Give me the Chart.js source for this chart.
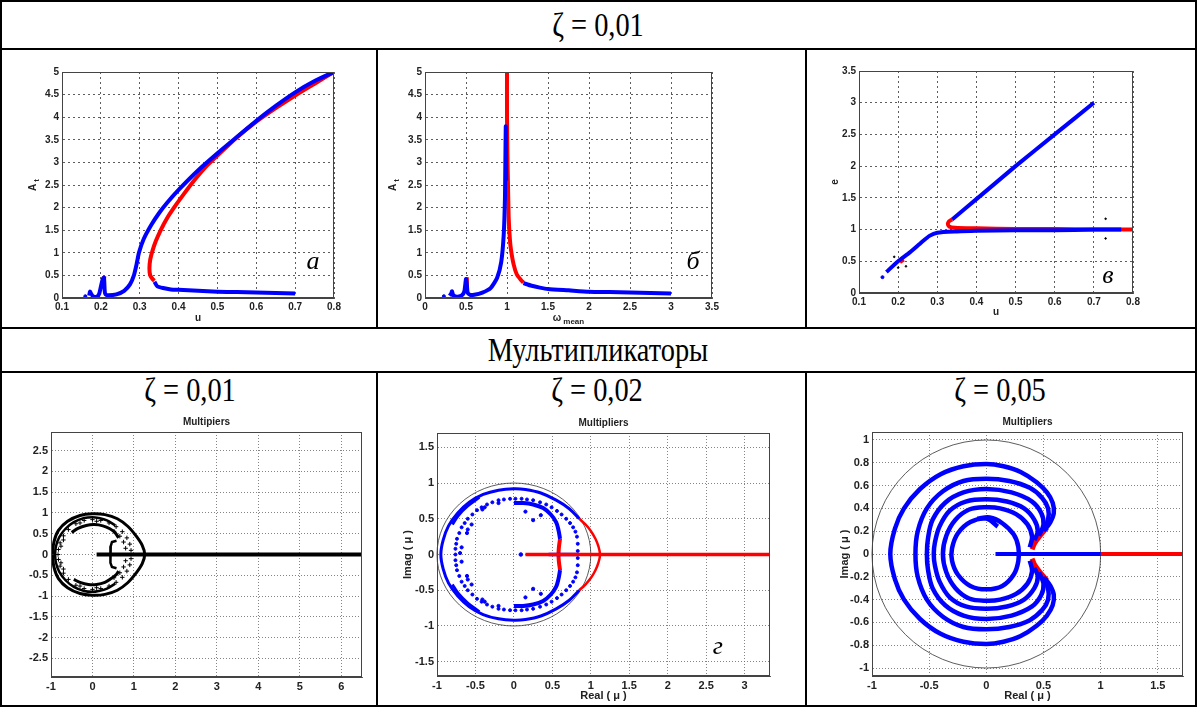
<!DOCTYPE html>
<html>
<head>
<meta charset="utf-8">
<script src="https://cdn.jsdelivr.net/npm/chart.js@4.4.0/dist/chart.umd.min.js"></script>
<style>
  body { margin: 0; background: #fff; }
  #page { position: relative; width: 1197px; height: 707px; overflow: hidden; background: #fff; }
  .ln { position: absolute; background: #000; }
  .hd { position: absolute; width: 400px; text-align: center; font-family: "Liberation Serif", serif;
        font-size: 33px; line-height: 36px; color: #000; transform: scaleX(0.86); white-space: nowrap; }
  canvas { position: absolute; }
</style>
</head>
<body>
<div id="page">
  <div class="ln" style="left:0;top:0;width:1197px;height:2px"></div>
  <div class="ln" style="left:0;top:705px;width:1197px;height:2px"></div>
  <div class="ln" style="left:0;top:0;width:2px;height:707px"></div>
  <div class="ln" style="left:1195px;top:0;width:2px;height:707px"></div>
  <div class="ln" style="left:0;top:48px;width:1197px;height:2px"></div>
  <div class="ln" style="left:0;top:327px;width:1197px;height:2px"></div>
  <div class="ln" style="left:0;top:371px;width:1197px;height:2px"></div>
  <div class="ln" style="left:376px;top:48px;width:2px;height:281px"></div>
  <div class="ln" style="left:805px;top:48px;width:2px;height:281px"></div>
  <div class="ln" style="left:376px;top:371px;width:2px;height:336px"></div>
  <div class="ln" style="left:805px;top:371px;width:2px;height:336px"></div>

  <div class="hd" style="left:398px;top:7px">ζ = 0,01</div>
  <div class="hd" style="left:398px;top:332px">Мультипликаторы</div>
  <div class="hd" style="left:-10px;top:372px">ζ = 0,01</div>
  <div class="hd" style="left:397px;top:372px">ζ = 0,02</div>
  <div class="hd" style="left:800px;top:372px">ζ = 0,05</div>
</div>
<script>
// ---- tick values
const ticksU = [0.1, 0.2, 0.3, 0.4, 0.5, 0.6, 0.7, 0.8]
const ticksA = [0, 0.5, 1, 1.5, 2, 2.5, 3, 3.5, 4, 4.5, 5]
const ticksW = [0, 0.5, 1, 1.5, 2, 2.5, 3, 3.5]
const ticksE = [0, 0.5, 1, 1.5, 2, 2.5, 3, 3.5]
const ticksM1x = [-1, 0, 1, 2, 3, 4, 5, 6]
const ticksM1y = [-2.5, -2, -1.5, -1, -0.5, 0, 0.5, 1, 1.5, 2, 2.5]
const ticksM2x = [-1, -0.5, 0, 0.5, 1, 1.5, 2, 2.5, 3]
const ticksM2y = [-1.5, -1, -0.5, 0, 0.5, 1, 1.5]
const ticksM3x = [-1, -0.5, 0, 0.5, 1, 1.5]
const ticksM3y = [-1, -0.8, -0.6, -0.4, -0.2, 0, 0.2, 0.4, 0.6, 0.8, 1]

// ---- chart а : A_t vs u
const aBlueDot = [[0.16, 0.04]]
const aBlueMain = [[0.17, 0.05], [0.172, 0.14], [0.175, 0.09], [0.18, 0.04], [0.19, 0.03], [0.196, 0.1], [0.2, 0.25],
  [0.205, 0.42], [0.208, 0.45], [0.21, 0.15], [0.212, 0.08], [0.22, 0.06], [0.24, 0.08], [0.26, 0.16], [0.275, 0.3],
  [0.285, 0.5], [0.292, 0.75], [0.298, 1.0], [0.31, 1.3], [0.33, 1.62], [0.35, 1.88], [0.37, 2.1], [0.4, 2.39],
  [0.45, 2.82], [0.5, 3.2], [0.55, 3.56], [0.6, 3.92], [0.65, 4.25], [0.7, 4.55], [0.75, 4.8], [0.8, 5.0]]
const aBlueTail = [[0.338, 0.36], [0.345, 0.26], [0.36, 0.22], [0.38, 0.19], [0.4, 0.18], [0.45, 0.16], [0.5, 0.14],
  [0.55, 0.13], [0.6, 0.12], [0.65, 0.11], [0.7, 0.1]]
const aRed = [[0.8, 5.0], [0.75, 4.74], [0.7, 4.48], [0.65, 4.2], [0.6, 3.9], [0.55, 3.55], [0.5, 3.15], [0.47, 2.9],
  [0.44, 2.6], [0.41, 2.26], [0.39, 2.02], [0.37, 1.76], [0.355, 1.52], [0.342, 1.27], [0.333, 1.05], [0.327, 0.85],
  [0.325, 0.65], [0.327, 0.5], [0.333, 0.42], [0.338, 0.38]]
const aRedSpike1 = [[0.17, 0.1], [0.173, 0.15]]
const aRedSpike2 = [[0.205, 0.25], [0.209, 0.48]]

// ---- chart б : A_t vs omega_mean
const bBlueDot = [[0.23, 0.04]]
const bBlueMain = [[0.3, 0.05], [0.32, 0.1], [0.33, 0.15], [0.34, 0.08], [0.36, 0.04], [0.4, 0.03], [0.45, 0.06],
  [0.48, 0.15], [0.5, 0.42], [0.51, 0.3], [0.52, 0.12], [0.55, 0.07], [0.6, 0.07], [0.7, 0.12], [0.8, 0.22],
  [0.88, 0.45], [0.93, 0.8], [0.96, 1.4], [0.975, 2.2], [0.98, 3.0], [0.985, 3.8], [0.99, 2.6]]
const bBlueTail = [[1.2, 0.33], [1.3, 0.27], [1.4, 0.23], [1.5, 0.2], [1.75, 0.17], [2.0, 0.14], [2.25, 0.13],
  [2.5, 0.12], [2.75, 0.11], [3.0, 0.1]]
const bRed = [[1.0, 5.0], [1.0, 4.0], [1.005, 3.2], [1.01, 2.7], [1.02, 1.8], [1.035, 1.3], [1.05, 1.05], [1.08, 0.75],
  [1.12, 0.52], [1.17, 0.4], [1.2, 0.34]]
const bRedSpike1 = [[0.33, 0.1], [0.335, 0.16]]
const bRedSpike2 = [[0.5, 0.25], [0.51, 0.46]]

// ---- chart в : e vs u
const cBlueDot = [[0.16, 0.25]]
const cBlueLow = [[0.17, 0.33], [0.2, 0.5], [0.23, 0.64], [0.26, 0.8], [0.28, 0.9], [0.3, 0.95], [0.35, 0.97],
  [0.4, 0.98], [0.5, 0.99], [0.6, 0.99], [0.7, 1.0], [0.77, 1.0]]
const cBlueUp = [[0.338, 1.16], [0.4, 1.48], [0.5, 2.0], [0.6, 2.5], [0.7, 3.0]]
const cRed = [[0.8, 1.0], [0.7, 1.0], [0.6, 1.01], [0.5, 1.01], [0.4, 1.02], [0.345, 1.03], [0.33, 1.05],
  [0.327, 1.09], [0.33, 1.13], [0.338, 1.16]]
const cRedBit = [[0.205, 0.48], [0.215, 0.52]]
const cBlackDots = [[0.19, 0.57], [0.22, 0.42], [0.2, 0.4], [0.73, 1.17], [0.73, 0.86], [0.8, 0.85], [0.8, 1.15]]

// ---- multipliers, zeta = 0.01 (black)
const m1Line = [[0.1, 0], [6.5, 0]]
const m1Outer = [[-0.96, 0], [-0.93, 0.3], [-0.82, 0.58], [-0.6, 0.8], [-0.3, 0.94], [0, 0.98], [0.3, 0.96], [0.6, 0.86],
  [0.85, 0.68], [1.05, 0.45], [1.2, 0.22], [1.26, 0], [1.2, -0.22], [1.05, -0.45], [0.85, -0.68], [0.6, -0.86],
  [0.3, -0.96], [0, -0.98], [-0.3, -0.94], [-0.6, -0.8], [-0.82, -0.58], [-0.93, -0.3], [-0.96, 0]]
const m1Ring = [[0.55, 0.7], [0.35, 0.82], [0.15, 0.88], [0, 0.9], [-0.2, 0.88], [-0.45, 0.78], [-0.65, 0.62],
  [-0.8, 0.42], [-0.88, 0.2], [-0.9, 0], [-0.88, -0.2], [-0.8, -0.42], [-0.65, -0.62], [-0.45, -0.78], [-0.2, -0.88],
  [0, -0.9], [0.15, -0.88], [0.35, -0.82], [0.55, -0.7]]
const m1Cross = [[0.93, 0.1], [0.9, 0.25], [0.83, 0.4], [0.72, 0.55], [0.57, 0.67], [0.4, 0.76], [0.2, 0.82], [0, 0.84],
  [-0.2, 0.82], [-0.4, 0.74], [-0.58, 0.6], [-0.7, 0.45], [-0.78, 0.28], [-0.82, 0.12], [-0.83, 0], [-0.82, -0.12],
  [-0.78, -0.28], [-0.7, -0.45], [-0.58, -0.6], [-0.4, -0.74], [-0.2, -0.82], [0, -0.84], [0.2, -0.82], [0.4, -0.76],
  [0.57, -0.67], [0.72, -0.55], [0.83, -0.4], [0.9, -0.25], [0.93, -0.1], [0.8, 0.15], [0.75, 0.3], [0.66, 0.44],
  [0.52, 0.56], [0.8, -0.15], [0.75, -0.3], [0.66, -0.44], [0.52, -0.56], [-0.76, 0.2], [-0.7, 0.35], [-0.76, -0.2],
  [-0.7, -0.35], [0.1, 0.8], [-0.3, 0.76], [0.1, -0.8], [-0.3, -0.76]]
const m1InnerTop = [[-0.5, 0.53], [-0.35, 0.63], [-0.15, 0.7], [0.05, 0.72], [0.25, 0.69], [0.42, 0.62], [0.55, 0.52], [0.63, 0.4]]
const m1InnerBot = [[-0.45, -0.6], [-0.3, -0.67], [-0.1, -0.72], [0.1, -0.72], [0.3, -0.67], [0.45, -0.58], [0.58, -0.48], [0.63, -0.4]]
const m1Bracket = [[0.58, 0.33], [0.47, 0.3], [0.44, 0.2], [0.43, 0.05], [0.43, -0.05], [0.44, -0.2], [0.47, -0.3], [0.58, -0.33]]

// ---- multipliers, zeta = 0.02
const m2Outer = [[0.85, 0.5], [0.72, 0.64], [0.55, 0.76], [0.35, 0.86], [0.15, 0.91], [0, 0.92], [-0.2, 0.9], [-0.4, 0.84],
  [-0.58, 0.73], [-0.73, 0.58], [-0.85, 0.4], [-0.92, 0.2], [-0.95, 0], [-0.92, -0.2], [-0.85, -0.4], [-0.73, -0.58],
  [-0.58, -0.73], [-0.4, -0.84], [-0.2, -0.9], [0, -0.92], [0.15, -0.91], [0.35, -0.86], [0.55, -0.76], [0.72, -0.64], [0.85, -0.5]]
const m2BandTop = [[-0.45, 0.8], [-0.6, 0.68], [-0.72, 0.55], [-0.8, 0.42]]
const m2BandBot = [[-0.45, -0.8], [-0.6, -0.68], [-0.72, -0.55], [-0.8, -0.42]]
const m2Mid = [[0.83, 0.05], [0.83, 0.15], [0.82, 0.25], [0.8, 0.32], [0.77, 0.38], [0.73, 0.44], [0.68, 0.5], [0.62, 0.56],
  [0.56, 0.61], [0.49, 0.66], [0.42, 0.7], [0.34, 0.73], [0.25, 0.76], [0.17, 0.77], [0.1, 0.78], [0.02, 0.78],
  [-0.05, 0.78], [-0.13, 0.77], [-0.2, 0.76], [-0.28, 0.73], [-0.35, 0.7], [-0.42, 0.66], [-0.48, 0.62], [-0.54, 0.56],
  [-0.6, 0.5], [-0.64, 0.44], [-0.68, 0.38], [-0.71, 0.3], [-0.74, 0.22], [-0.75, 0.15], [-0.76, 0.08], [-0.76, 0],
  [-0.76, -0.08], [-0.75, -0.15], [-0.74, -0.22], [-0.71, -0.3], [-0.68, -0.38], [-0.64, -0.44], [-0.6, -0.5],
  [-0.54, -0.56], [-0.48, -0.62], [-0.42, -0.66], [-0.35, -0.7], [-0.28, -0.73], [-0.2, -0.76], [-0.13, -0.77],
  [-0.05, -0.78], [0.02, -0.78], [0.1, -0.78], [0.17, -0.77], [0.25, -0.76], [0.34, -0.73], [0.42, -0.7], [0.49, -0.66],
  [0.56, -0.61], [0.62, -0.56], [0.68, -0.5], [0.73, -0.44], [0.77, -0.38], [0.8, -0.32], [0.82, -0.25], [0.83, -0.15],
  [0.83, -0.05]]
const m2Scatter = [[-0.41, 0.63], [-0.38, 0.66], [-0.6, 0.35], [-0.61, 0.3], [-0.55, 0.42], [-0.7, 0.02], [-0.68, 0.1],
  [-0.2, 0.72], [0.35, 0.55], [0.25, 0.48], [0.15, 0.6], [-0.41, -0.63], [-0.38, -0.66], [-0.6, -0.35], [-0.61, -0.3],
  [-0.55, -0.42], [-0.68, -0.1], [-0.2, -0.72], [0.35, -0.55], [0.25, -0.48], [0.15, -0.6]]
const m2ArcTop = [[0, 0.72], [0.12, 0.72], [0.25, 0.7], [0.38, 0.65], [0.48, 0.56], [0.55, 0.45], [0.58, 0.34], [0.6, 0.22]]
const m2ArcBot = [[0, -0.72], [0.12, -0.72], [0.25, -0.7], [0.38, -0.65], [0.48, -0.56], [0.55, -0.45], [0.58, -0.34], [0.6, -0.22]]
const m2RedArc = [[0.85, 0.5], [0.93, 0.42], [1.0, 0.33], [1.06, 0.22], [1.1, 0.11], [1.12, 0], [1.1, -0.11], [1.06, -0.22],
  [1.0, -0.33], [0.93, -0.42], [0.85, -0.5]]
const m2RedInner = [[0.6, 0.22], [0.585, 0.1], [0.58, 0], [0.585, -0.1], [0.6, -0.22]]
const m2RedLine = [[0.15, 0], [3.33, 0]]
const m2BlueLine = [[0.45, 0], [0.83, 0]]
const m2BlueDot = [[0.09, 0]]

// ---- multipliers, zeta = 0.05
const m3R1 = [[0.51, 0.21], [0.56, 0.28], [0.59, 0.36], [0.58, 0.45], [0.53, 0.54], [0.44, 0.63], [0.3, 0.72], [0.15, 0.77],
  [0, 0.79], [-0.2, 0.77], [-0.4, 0.7], [-0.58, 0.57], [-0.72, 0.4], [-0.8, 0.22], [-0.84, 0], [-0.8, -0.22], [-0.72, -0.4],
  [-0.58, -0.57], [-0.4, -0.7], [-0.2, -0.77], [0, -0.79], [0.15, -0.77], [0.3, -0.72], [0.44, -0.63], [0.53, -0.54],
  [0.58, -0.45], [0.59, -0.36], [0.56, -0.28], [0.51, -0.21]]
const m3R2 = [[0.5, 0.2], [0.54, 0.3], [0.54, 0.4], [0.49, 0.49], [0.38, 0.58], [0.2, 0.64], [0, 0.66], [-0.2, 0.64],
  [-0.38, 0.55], [-0.52, 0.4], [-0.6, 0.2], [-0.62, 0], [-0.6, -0.2], [-0.52, -0.4], [-0.38, -0.55], [-0.2, -0.64],
  [0, -0.66], [0.2, -0.64], [0.38, -0.58], [0.49, -0.49], [0.54, -0.4], [0.54, -0.3], [0.5, -0.2]]
const m3R3 = [[0.46, 0.16], [0.5, 0.26], [0.48, 0.36], [0.4, 0.46], [0.22, 0.54], [0, 0.57], [-0.2, 0.54], [-0.36, 0.45],
  [-0.47, 0.3], [-0.51, 0.14], [-0.52, 0], [-0.51, -0.14], [-0.47, -0.3], [-0.36, -0.45], [-0.2, -0.54], [0, -0.57],
  [0.22, -0.54], [0.4, -0.46], [0.48, -0.36], [0.5, -0.26], [0.46, -0.16]]
const m3R4 = [[0.42, 0.12], [0.45, 0.2], [0.42, 0.3], [0.33, 0.4], [0.18, 0.46], [0, 0.48], [-0.18, 0.46], [-0.32, 0.38],
  [-0.41, 0.24], [-0.45, 0.1], [-0.46, 0], [-0.45, -0.1], [-0.41, -0.24], [-0.32, -0.38], [-0.18, -0.46], [0, -0.48],
  [0.18, -0.46], [0.33, -0.4], [0.42, -0.3], [0.45, -0.2], [0.42, -0.12]]
const m3R5 = [[0.38, 0.06], [0.4, 0.15], [0.36, 0.26], [0.26, 0.35], [0.12, 0.4], [0, 0.41], [-0.15, 0.39], [-0.27, 0.3],
  [-0.35, 0.16], [-0.38, 0], [-0.35, -0.16], [-0.27, -0.3], [-0.15, -0.39], [0, -0.41], [0.12, -0.4], [0.26, -0.35],
  [0.36, -0.26], [0.4, -0.15], [0.38, -0.06]]
const m3R6 = [[0.1, 0.24], [0, 0.31], [-0.14, 0.28], [-0.25, 0.18], [-0.3, 0.05], [-0.3, -0.06], [-0.25, -0.18],
  [-0.14, -0.28], [0, -0.31], [0.14, -0.28], [0.24, -0.18], [0.28, -0.06], [0.28, 0.06], [0.24, 0.17], [0.14, 0.27],
  [0.03, 0.32], [-0.08, 0.31]]
const m3RedTop = [[0.53, 0.23], [0.47, 0.16], [0.42, 0.09], [0.4, 0.04]]
const m3RedBot = [[0.53, -0.23], [0.47, -0.16], [0.42, -0.09], [0.4, -0.04]]
const m3RedLine = [[1.0, 0], [1.72, 0]]
const m3BlueLine = [[0.08, 0], [1.0, 0]]

const BLUE = '#0000ff'
const RED = '#ff0000'
const BLACK = '#000000'
const page = document.getElementById('page')

const fmt = (v) => String(Math.round(v * 100) / 100)
const pts = (arr) => arr.map((p) => ({ x: p[0], y: p[1] }))

function line (data, color, width, tension = 0.3) {
  return { data: pts(data), showLine: true, borderColor: color, backgroundColor: color, borderWidth: width, pointRadius: 0, tension }
}

function dots (data, color, radius, style = 'circle') {
  return { data: pts(data), showLine: false, pointRadius: radius, pointStyle: style, pointBackgroundColor: color, pointBorderColor: color, pointBorderWidth: 1 }
}

function axis (min, max, ticks, size, gridColor, dash) {
  return {
    type: 'linear',
    min,
    max,
    afterBuildTicks: (s) => { s.ticks = ticks.map((v) => ({ value: v })) },
    ticks: { callback: fmt, font: { family: 'Liberation Sans', size, weight: 'bold' }, color: '#222', padding: 3, autoSkip: false, maxRotation: 0 },
    grid: { color: gridColor, lineWidth: 0.8, drawTicks: false },
    border: { display: true, color: '#444', width: 1, dash }
  }
}

function drawText (ctx, x, y, main, sub, rot, size) {
  ctx.save()
  ctx.translate(x, y)
  ctx.rotate(rot || 0)
  ctx.textBaseline = 'middle'
  ctx.textAlign = 'left'
  ctx.fillStyle = '#222'
  ctx.font = 'bold ' + size + 'px "Liberation Sans"'
  const w1 = ctx.measureText(main).width
  ctx.font = 'bold ' + (size - 2) + 'px "Liberation Sans"'
  const w2 = sub ? ctx.measureText(sub).width + 2 : 0
  const x0 = -(w1 + w2) / 2
  ctx.font = 'bold ' + size + 'px "Liberation Sans"'
  ctx.fillText(main, x0, 0)
  if (sub) {
    ctx.font = 'bold ' + (size - 2) + 'px "Liberation Sans"'
    ctx.fillText(sub, x0 + w1 + 2, 4)
  }
  ctx.restore()
}

const decor = {
  id: 'decor',
  beforeDatasetsDraw (chart, args, o) {
    if (!o.circle) return
    const { x, y } = chart.scales
    const ctx = chart.ctx
    const cx = x.getPixelForValue(0)
    const cy = y.getPixelForValue(0)
    ctx.save()
    ctx.beginPath()
    ctx.ellipse(cx, cy, x.getPixelForValue(o.circle) - cx, cy - y.getPixelForValue(o.circle), 0, 0, Math.PI * 2)
    ctx.strokeStyle = '#333'
    ctx.lineWidth = 0.8
    ctx.stroke()
    ctx.restore()
  },
  afterDraw (chart, args, o) {
    const ctx = chart.ctx
    const a = chart.chartArea
    ctx.save()
    ctx.strokeStyle = '#444'
    ctx.lineWidth = 1
    ctx.strokeRect(Math.round(a.left) + 0.5, Math.round(a.top) + 0.5, Math.round(a.right - a.left) - 1, Math.round(a.bottom - a.top) - 1)
    ctx.restore()
    const cx = (a.left + a.right) / 2
    const cy = (a.top + a.bottom) / 2
    if (o.title) drawText(ctx, cx, a.top - 10, o.title, null, 0, 10)
    if (o.xLabel) drawText(ctx, cx, a.bottom + o.xLabel.dy, o.xLabel.text, o.xLabel.sub, 0, o.xLabel.size || 10)
    if (o.yLabel) drawText(ctx, a.left - o.yLabel.dx, cy, o.yLabel.text, o.yLabel.sub, -Math.PI / 2, o.yLabel.size || 10)
    if (o.letter) {
      ctx.save()
      ctx.font = 'italic 26px "Liberation Serif"'
      ctx.fillStyle = '#000'
      ctx.textAlign = 'center'
      ctx.textBaseline = 'middle'
      ctx.fillText(o.letter.text, chart.scales.x.getPixelForValue(o.letter.x), chart.scales.y.getPixelForValue(o.letter.y))
      ctx.restore()
    }
  }
}

function makeChart (box, datasets, xAx, yAx, deco) {
  const [l, t, r, b] = box
  const padL = 46
  const padT = 26
  const padR = 16
  const padB = 34
  const cv = document.createElement('canvas')
  cv.width = r - l + padL + padR
  cv.height = b - t + padT + padB
  cv.style.left = (l - padL) + 'px'
  cv.style.top = (t - padT) + 'px'
  page.appendChild(cv)
  xAx.afterFit = (s) => { s.height = padB }
  yAx.afterFit = (s) => { s.width = padL }
  return new Chart(cv, {
    type: 'scatter',
    data: { datasets },
    options: {
      responsive: false,
      animation: false,
      events: [],
      layout: { padding: { left: 0, top: padT, right: padR, bottom: 0 } },
      scales: { x: xAx, y: yAx },
      plugins: { legend: { display: false }, tooltip: { enabled: false }, decor: deco }
    },
    plugins: [decor]
  })
}

const topGrid = '#333'
const topDash = [2, 3]
const botGrid = '#666'
const botDash = [1, 2]

// а
makeChart([62, 72, 334, 298], [
  line(aBlueMain, BLUE, 4, 0.2),
  line(aBlueTail, BLUE, 4, 0.2),
  dots(aBlueDot, BLUE, 1.5),
  line(aRed, RED, 4, 0.2),
  line(aRedSpike1, RED, 3, 0),
  line(aRedSpike2, RED, 4, 0)
], axis(0.1, 0.8, ticksU, 10, topGrid, topDash), axis(0, 5, ticksA, 10, topGrid, topDash), {
  xLabel: { text: 'u', dy: 20 },
  yLabel: { text: 'A', sub: 't', dx: 29 },
  letter: { text: 'а', x: 0.746, y: 0.8 }
})

// б
makeChart([425, 72, 712, 298], [
  line(bBlueMain, BLUE, 4, 0.2),
  line(bBlueTail, BLUE, 4, 0.2),
  dots(bBlueDot, BLUE, 1.5),
  line(bRed, RED, 4, 0.2),
  line(bRedSpike1, RED, 3, 0),
  line(bRedSpike2, RED, 4, 0)
], axis(0, 3.5, ticksW, 10, topGrid, topDash), axis(0, 5, ticksA, 10, topGrid, topDash), {
  xLabel: { text: 'ω', sub: 'mean', dy: 20 },
  yLabel: { text: 'A', sub: 't', dx: 32 },
  letter: { text: 'б', x: 3.27, y: 0.8 }
})

// в
makeChart([859, 71, 1133, 293], [
  dots(cBlackDots, BLACK, 0.8),
  line(cBlueLow, BLUE, 4, 0.2),
  line(cBlueUp, BLUE, 4, 0.2),
  dots(cBlueDot, BLUE, 1.5),
  line(cRed, RED, 4, 0.3),
  line(cRedBit, RED, 3, 0)
], axis(0.1, 0.8, ticksU, 10, topGrid, topDash), axis(0, 3.5, ticksE, 10, topGrid, topDash), {
  xLabel: { text: 'u', dy: 19 },
  yLabel: { text: 'e', dx: 24 },
  letter: { text: 'в', x: 0.736, y: 0.27 }
})

// multipliers 0.01
makeChart([51, 432, 362, 677], [
  line(m1Line, BLACK, 4, 0),
  line(m1Outer, BLACK, 3, 0.35),
  line(m1Ring, BLACK, 2.5, 0.35),
  dots(m1Cross, BLACK, 2.2, 'cross'),
  line(m1InnerTop, BLACK, 3, 0.35),
  line(m1InnerBot, BLACK, 3, 0.35),
  line(m1Bracket, BLACK, 2.5, 0)
], axis(-1, 6.5, ticksM1x, 11, botGrid, botDash), axis(-2.95, 2.95, ticksM1y, 11, botGrid, botDash), {
  title: 'Multipiers'
})

// multipliers 0.02
makeChart([437, 433, 770, 676], [
  line(m2RedLine, RED, 3.5, 0),
  line(m2Outer, BLUE, 3, 0.35),
  line(m2BandTop, BLUE, 3, 0.35),
  line(m2BandBot, BLUE, 3, 0.35),
  dots(m2Mid, BLUE, 1.5),
  dots(m2Scatter, BLUE, 1.6),
  line(m2ArcTop, BLUE, 4, 0.35),
  line(m2ArcBot, BLUE, 4, 0.35),
  line(m2BlueLine, BLUE, 3.5, 0),
  dots(m2BlueDot, BLUE, 1.8),
  line(m2RedArc, RED, 2.5, 0.35),
  line(m2RedInner, RED, 4, 0.35)
], axis(-1, 3.33, ticksM2x, 11, botGrid, botDash), axis(-1.7, 1.7, ticksM2y, 11, botGrid, botDash), {
  title: 'Multipliers',
  circle: 1,
  xLabel: { text: 'Real ( μ )', dy: 20, size: 11 },
  yLabel: { text: 'Imag ( μ )', dx: 29, size: 11 },
  letter: { text: 'г', x: 2.65, y: -1.29 }
})

// multipliers 0.05
makeChart([872, 432, 1183, 676], [
  line(m3R1, BLUE, 4.5, 0.35),
  line(m3R2, BLUE, 4.5, 0.35),
  line(m3R3, BLUE, 4.5, 0.35),
  line(m3R4, BLUE, 4.5, 0.35),
  line(m3R5, BLUE, 4.5, 0.35),
  line(m3R6, BLUE, 4.5, 0.35),
  line(m3BlueLine, BLUE, 4, 0),
  line(m3RedLine, RED, 4, 0),
  line(m3RedTop, RED, 5, 0.2),
  line(m3RedBot, RED, 5, 0.2)
], axis(-1, 1.72, ticksM3x, 11, botGrid, botDash), axis(-1.07, 1.07, ticksM3y, 11, botGrid, botDash), {
  title: 'Multipliers',
  circle: 1,
  xLabel: { text: 'Real ( μ )', dy: 20, size: 11 },
  yLabel: { text: 'Imag ( μ )', dx: 27, size: 11 }
})
</script>
</body>
</html>
